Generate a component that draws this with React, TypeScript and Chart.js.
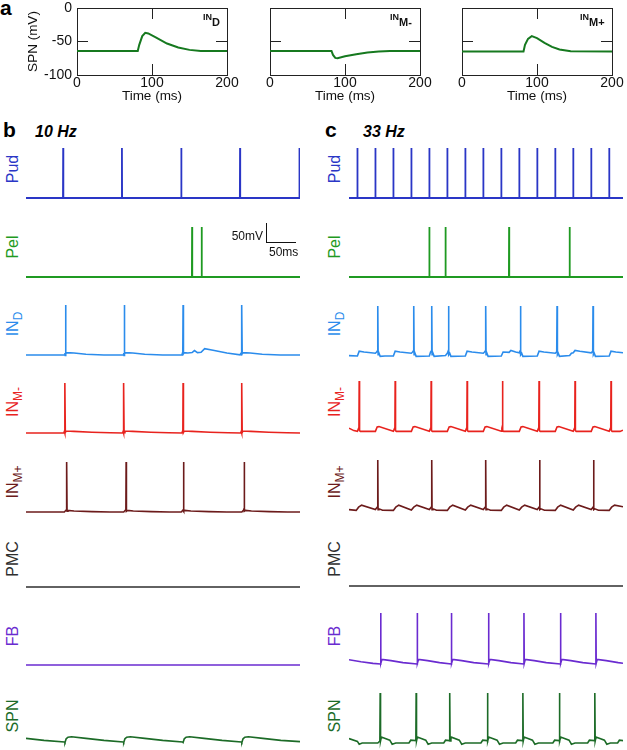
import React, { useEffect, useRef } from 'react';
import { Chart, registerables } from 'chart.js';

Chart.register(...registerables);

type Pt = [number, number];

const FONT = '"Liberation Sans", Arial, Helvetica, sans-serif';

// ---------- Panel a (PSP shapes onto SPN) ----------
const aTimeTicks = [0, 100, 200];
const aVoltTicks = [-100, -50, 0];
const aIND: Pt[] = [[0, -64], [81, -64], [83, -55], [87, -42], [91, -37], [95, -38], [105, -44], [120, -53], [135, -59], [150, -62.5], [165, -64], [200, -64]];
const aINMminus: Pt[] = [[0, -64], [82, -64], [84, -70], [87, -74.5], [90, -75], [100, -72], [115, -69], [130, -66.5], [145, -65], [160, -64], [200, -64]];
const aINMplus: Pt[] = [[0, -65], [82, -65], [84, -55], [88, -46], [93, -42], [100, -45], [110, -52], [120, -58], [130, -62], [145, -64.5], [200, -65]];

// ---------- Panel b (10 Hz), time in ms, voltage in mV ----------
const pudB: Pt[] = [[0, -65], [61.7, -65], [62, 60], [62.3, -65], [159.7, -65], [160, 60], [160.3, -65], [258.7, -65], [259, 60], [259.3, -65], [356.7, -65], [357, 60], [357.3, -65], [455.7, -65], [456, 60], [456.3, -65], [457, -65]];
const pelB: Pt[] = [[0, -65], [276.7, -65], [277, 60], [277.3, -65], [292.7, -65], [293, 60], [293.3, -65], [457, -65]];
const inDB: Pt[] = [[0, -65], [64, -65], [65, -60], [65.5, -66], [66, 60], [66.6, -62], [68, -59], [80, -60], [100, -63], [130, -65], [162, -65], [163, -60], [163.5, -66], [164, 60], [164.6, -62], [166, -59], [178, -60], [198, -63], [228, -65], [260, -65], [261, -60], [261.5, -66], [262, 60], [262.6, -62], [264, -59], [270, -60], [277, -59], [281, -54], [286, -59], [292, -58], [298, -49], [312, -53], [335, -60], [357, -64.5], [359, -60], [359.5, -66], [360, 60], [360.6, -62], [362, -59], [374, -60], [394, -63], [424, -65], [457, -65]];
const inMmB: Pt[] = [[0, -65], [63, -65], [64, -61], [64.6, -65.5], [65, 60], [65.6, -64], [67, -60], [80, -61], [110, -63], [140, -64.5], [161, -65], [162, -61], [162.6, -65.5], [163, 60], [163.6, -64], [165, -60], [178, -61], [208, -63], [238, -64.5], [260, -65], [261, -61], [261.6, -65.5], [262, 60], [262.6, -64], [264, -60], [277, -61], [307, -63], [337, -64.5], [358, -65], [359, -61], [359.6, -65.5], [360, 60], [360.6, -64], [362, -60], [375, -61], [405, -63], [435, -64.5], [457, -65]];
const inMpB: Pt[] = [[0, -65], [64, -65], [67, -60], [67.6, -57], [68, 60], [68.5, -63], [70, -61], [80, -62.5], [110, -64], [140, -65], [163, -65], [166, -60], [166.6, -57], [167, 60], [167.5, -63], [169, -61], [179, -62.5], [209, -64], [239, -65], [259, -65], [262, -60], [262.6, -57], [263, 60], [263.5, -63], [265, -61], [275, -62.5], [305, -64], [335, -65], [360, -65], [363, -60], [363.6, -57], [364, 60], [364.5, -63], [366, -61], [376, -62.5], [406, -64], [436, -65], [457, -65]];
const pmcB: Pt[] = [[0, -65], [457, -65]];
const fbB: Pt[] = [[0, -65], [457, -65]];
const spnB: Pt[] = [[0, -56], [30, -61], [64, -65], [65, -66.5], [67, -57], [70, -53], [76, -52], [100, -56], [130, -61], [162, -65], [163, -66.5], [165, -57], [168, -53], [174, -52], [198, -56], [228, -61], [261, -65], [262, -66.5], [264, -57], [267, -53], [273, -52], [297, -56], [327, -61], [359, -65], [360, -66.5], [362, -57], [365, -53], [371, -52], [395, -56], [425, -61], [457, -64]];

// ---------- Panel c (33 Hz) ----------
const pudC: Pt[] = [[0, -65], [13.7, -65], [14, 60], [14.3, -65], [43.7, -65], [44, 60], [44.3, -65], [73.7, -65], [74, 60], [74.3, -65], [103.7, -65], [104, 60], [104.3, -65], [133.7, -65], [134, 60], [134.3, -65], [163.7, -65], [164, 60], [164.3, -65], [193.7, -65], [194, 60], [194.3, -65], [223.7, -65], [224, 60], [224.3, -65], [253.7, -65], [254, 60], [254.3, -65], [283.7, -65], [284, 60], [284.3, -65], [313.7, -65], [314, 60], [314.3, -65], [343.7, -65], [344, 60], [344.3, -65], [373.7, -65], [374, 60], [374.3, -65], [403.7, -65], [404, 60], [404.3, -65], [433.7, -65], [434, 60], [434.3, -65], [457, -65]];
const pelC: Pt[] = [[0, -65], [133.7, -65], [134, 60], [134.3, -65], [160.7, -65], [161, 60], [161.3, -65], [266.7, -65], [267, 60], [267.3, -65], [367.7, -65], [368, 60], [368.3, -65], [457, -65]];
const inDC: Pt[] = [[0, -64], [14, -65], [17, -53], [25, -55], [44, -58], [46, -55], [47.5, -52], [48, 60], [48.6, -62], [50, -58], [52, -66], [60, -65], [74, -65], [77, -53], [85, -55], [104, -58], [106, -55], [107.5, -52], [108, 60], [108.6, -62], [110, -58], [112, -66], [134, -65], [136, -55], [137.5, -52], [138, 60], [138.6, -62], [140, -58], [142, -66], [161, -64], [164, -58], [165.5, -52], [166, 60], [166.6, -62], [168, -58], [170, -66], [194, -65], [197, -53], [205, -55], [224, -58], [226, -55], [227.5, -52], [228, 60], [228.6, -62], [230, -58], [232, -66], [254, -65], [257, -55], [267, -56], [270, -51], [278, -55], [284, -57], [285.5, -52], [286, 60], [286.6, -62], [288, -58], [290, -66], [314, -65], [317, -53], [325, -55], [344, -58], [346, -55], [346.5, -52], [347, 60], [347.6, -62], [349, -58], [351, -66], [368, -64], [371, -58], [374, -57], [377, -51], [385, -53], [404, -57], [406, -54], [406.5, -52], [407, 60], [407.6, -62], [409, -58], [411, -66], [434, -65], [437, -53], [445, -55], [457, -57]];
const inMmC: Pt[] = [[0, -58], [8, -64], [14, -66], [16, -58], [16.6, -54], [17, 60], [17.6, -64], [19, -66], [44, -66], [47, -55], [50, -54], [74, -65.5], [76, -58], [76.6, -54], [77, 60], [77.6, -64], [79, -66], [104, -66], [107, -55], [110, -54], [134, -65.5], [136, -58], [136.6, -54], [137, 60], [137.6, -64], [139, -66], [164, -66], [167, -55], [170, -54], [194, -65.5], [196, -58], [196.6, -54], [197, 60], [197.6, -64], [199, -66], [224, -66], [227, -55], [230, -54], [254, -65.5], [255, -58], [255.6, -54], [256, 60], [256.6, -64], [258, -66], [284, -66], [287, -55], [290, -54], [314, -65.5], [316, -58], [316.6, -54], [317, 60], [317.6, -64], [319, -66], [344, -66], [347, -55], [350, -54], [374, -65.5], [376, -58], [376.6, -54], [377, 60], [377.6, -64], [379, -66], [404, -66], [407, -55], [410, -54], [434, -65.5], [436, -58], [436.6, -54], [437, 60], [437.6, -64], [439, -66], [452, -66], [457, -63]];
const inMpC: Pt[] = [[0, -64], [12, -66], [16, -58], [21, -53], [44, -64], [46, -60], [47.6, -57], [48, 60], [48.5, -64], [50, -62], [56, -65.5], [74, -66], [78, -58], [83, -53], [104, -65], [108, -58], [113, -53], [134, -64], [136, -60], [137.6, -57], [138, 60], [138.5, -64], [140, -62], [146, -65.5], [164, -66], [168, -58], [173, -53], [194, -65], [198, -58], [203, -53], [224, -64], [226, -60], [227.6, -57], [228, 60], [228.5, -64], [230, -62], [236, -65.5], [254, -66], [258, -58], [263, -53], [284, -65], [288, -58], [293, -53], [314, -64], [316, -60], [317.6, -57], [318, 60], [318.5, -64], [320, -62], [326, -65.5], [344, -66], [348, -58], [353, -53], [374, -65], [378, -58], [383, -53], [404, -64], [406, -60], [407.6, -57], [408, 60], [408.5, -64], [410, -62], [416, -65.5], [434, -66], [438, -58], [443, -53], [457, -57]];
const pmcC: Pt[] = [[0, -65], [457, -65]];
const fbC: Pt[] = [[0, -57], [20, -62], [40, -66], [52.5, -67.5], [52.8, 60], [53.3, -66], [55, -56], [70, -59], [90, -64], [113.5, -67.5], [113.8, 60], [114.3, -66], [116, -56], [131, -59], [151, -64], [170.5, -67.5], [170.8, 60], [171.3, -66], [173, -56], [188, -59], [208, -64], [232.5, -67.5], [232.8, 60], [233.3, -66], [235, -56], [250, -59], [270, -64], [291.5, -67.5], [291.8, 60], [292.3, -66], [294, -56], [309, -59], [329, -64], [352.5, -67.5], [352.8, 60], [353.3, -66], [355, -56], [370, -59], [390, -64], [411.5, -67.5], [411.8, 60], [412.3, -66], [414, -56], [429, -59], [449, -64], [457, -65.5]];
const spnC: Pt[] = [[0, -54], [14, -61], [17, -68], [22, -65], [48, -65], [51.5, -60], [52, 60], [52.6, -60], [54, -50], [68, -58], [72, -68], [78, -65], [100, -65], [103, -58], [111.5, -59], [112, 60], [112.6, -60], [114, -50], [128, -58], [132, -68], [138, -65], [158, -65], [161, -58], [167.5, -59], [168, 60], [168.6, -60], [170, -50], [184, -58], [188, -68], [194, -65], [220, -65], [223, -58], [230.5, -59], [231, 60], [231.6, -60], [233, -50], [247, -58], [251, -68], [257, -65], [278, -65], [281, -58], [289.5, -59], [290, 60], [290.6, -60], [292, -50], [306, -58], [310, -68], [316, -65], [340, -65], [343, -58], [350.5, -59], [351, 60], [351.6, -60], [353, -50], [367, -58], [371, -68], [377, -65], [398, -65], [401, -58], [409.5, -59], [410, 60], [410.6, -60], [412, -50], [426, -58], [430, -68], [436, -65], [448, -65], [451, -58], [457, -59]];

const COLORS = {
  pud: '#2a36c6',
  pel: '#1f9a22',
  inD: '#2b8cec',
  inMm: '#e8231e',
  inMp: '#6c1b1b',
  pmc: '#2e2e2e',
  fb: '#6a2bd0',
  spn: '#1c6b27',
  a: '#16791f',
};

// trace canvas geometry (0.6 px/ms, 0.4 px/mV)
const T_MAX = 457;
const V_MIN = -80;
const V_MAX = 65;
const PX_MV = 0.4;
const TRACE_W = 274;

function Trace({ pts, color, left, base, lw = 1.6 }: { pts: Pt[]; color: string; left: number; base: number; lw?: number }) {
  const ref = useRef<HTMLCanvasElement>(null);
  const h = (V_MAX - V_MIN) * PX_MV;
  const top = base - (V_MAX + 65) * PX_MV;
  useEffect(() => {
    const chart = new Chart(ref.current as HTMLCanvasElement, {
      type: 'line',
      data: {
        datasets: [{
          data: pts.map(([x, y]) => ({ x, y })),
          borderColor: color,
          borderWidth: lw,
          pointRadius: 0,
          tension: 0,
          fill: false,
        }],
      },
      options: {
        animation: false,
        responsive: false,
        devicePixelRatio: 1,
        layout: { padding: 0 },
        plugins: { legend: { display: false }, tooltip: { enabled: false } },
        scales: {
          x: { type: 'linear', min: 0, max: T_MAX, display: false },
          y: { type: 'linear', min: V_MIN, max: V_MAX, display: false },
        },
      },
    } as any);
    return () => chart.destroy();
  }, []);
  return <canvas ref={ref} width={TRACE_W} height={h} style={{ position: 'absolute', left, top, width: TRACE_W, height: h }} />;
}

// plot area of each panel-a chart: x from areaL to areaL+150, y from 8 to 75
const A_TOP = 8;
const A_BOTTOM = 75;
const A_TOP_W = 25;
const A_BOTTOM_H = 35;
const A_RIGHT_W = 26;

function PanelA({ pts, areaL, leftW, showY }: { pts: Pt[]; areaL: number; leftW: number; showY: boolean }) {
  const ref = useRef<HTMLCanvasElement>(null);
  const left = areaL - leftW;
  const width = leftW + 150 + A_RIGHT_W;
  const top = A_TOP - A_TOP_W;
  const height = A_TOP_W + (A_BOTTOM - A_TOP) + A_BOTTOM_H;
  useEffect(() => {
    const tickFont = { family: FONT, size: 14 };
    const titleFont = { family: FONT, size: 13.5 };
    const frameGrid = { drawOnChartArea: false, drawTicks: true, tickLength: -11, color: '#222', lineWidth: 1 };
    const frameBorder = { display: true, color: '#222', width: 1 };
    const noGrid = { display: false, drawTicks: false };
    const noBorder = { display: false };
    const xTicks = (s: any) => { s.ticks = aTimeTicks.map((v) => ({ value: v })); };
    const yTicks = (s: any) => { s.ticks = aVoltTicks.map((v) => ({ value: v })); };
    const chart = new Chart(ref.current as HTMLCanvasElement, {
      type: 'line',
      data: {
        datasets: [{
          data: pts.map(([x, y]) => ({ x, y })),
          borderColor: COLORS.a,
          borderWidth: 2,
          pointRadius: 0,
          tension: 0,
          fill: false,
          xAxisID: 'x',
          yAxisID: 'y',
        }],
      },
      options: {
        animation: false,
        responsive: false,
        devicePixelRatio: 1,
        layout: { padding: 0 },
        plugins: { legend: { display: false }, tooltip: { enabled: false } },
        scales: {
          // frame axes (border + inward ticks)
          x: {
            type: 'linear', position: 'bottom', weight: 0, min: 0, max: 200,
            afterBuildTicks: xTicks,
            ticks: { display: false },
            grid: frameGrid, border: frameBorder,
            afterFit: (s: any) => { s.height = 0; },
          },
          x2: {
            type: 'linear', position: 'top', min: 0, max: 200,
            afterBuildTicks: xTicks,
            ticks: { display: false },
            grid: frameGrid, border: frameBorder,
            afterFit: (s: any) => { s.height = A_TOP_W; },
          },
          y: {
            type: 'linear', position: 'left', weight: 0, min: -100, max: 0,
            afterBuildTicks: yTicks,
            ticks: { display: false },
            grid: frameGrid, border: frameBorder,
            afterFit: (s: any) => { s.width = showY ? 0 : leftW; },
          },
          y2: {
            type: 'linear', position: 'right', min: -100, max: 0,
            afterBuildTicks: yTicks,
            ticks: { display: false },
            grid: frameGrid, border: frameBorder,
            afterFit: (s: any) => { s.width = A_RIGHT_W; },
          },
          // label axes (tick labels + titles)
          xl: {
            type: 'linear', axis: 'x', position: 'bottom', weight: 1, min: 0, max: 200,
            afterBuildTicks: xTicks,
            ticks: { font: tickFont, color: '#111', padding: 0, maxRotation: 0, autoSkip: false },
            grid: noGrid, border: noBorder,
            title: { display: true, text: 'Time (ms)', font: titleFont, color: '#111', padding: { top: 0, bottom: 5.9 } },
            afterFit: (s: any) => { s.height = A_BOTTOM_H; },
          },
          yl: {
            type: 'linear', axis: 'y', position: 'left', weight: 1, min: -100, max: 0,
            display: showY,
            afterBuildTicks: yTicks,
            ticks: { font: tickFont, color: '#111', padding: 5, autoSkip: false },
            grid: noGrid, border: noBorder,
            title: { display: true, text: 'SPN (mV)', font: titleFont, color: '#111', padding: { top: 6.9, bottom: 0 } },
            afterFit: (s: any) => { s.width = showY ? leftW : 0; },
          },
        },
      },
    } as any);
    return () => chart.destroy();
  }, []);
  return <canvas ref={ref} width={width} height={height} style={{ position: 'absolute', left, top, width, height }} />;
}

function RowLabel({ text, sub, color, cx, cy }: { text: string; sub?: string; color: string; cx: number; cy: number }) {
  return (
    <div style={{ position: 'absolute', left: cx, top: cy, transform: 'translate(-50%,-50%) rotate(-90deg)', color, fontSize: 16, lineHeight: '16px', whiteSpace: 'nowrap' }}>
      {text}
      {sub && <span style={{ fontSize: 12, position: 'relative', top: 4 }}>{sub}</span>}
    </div>
  );
}

function InsetLabel({ sub, left }: { sub: string; left: number }) {
  return (
    <div style={{ position: 'absolute', left, top: 12, fontSize: 9, lineHeight: '9px', fontWeight: 'bold', whiteSpace: 'nowrap', color: '#111' }}>
      IN<span style={{ fontSize: 11, position: 'relative', top: 6 }}>{sub}</span>
    </div>
  );
}

const rows = [
  { key: 'pud', text: 'Pud', sub: '', cy: 169, b: pudB, c: pudC, baseB: 198, baseC: 198, color: COLORS.pud, lw: 1.8 },
  { key: 'pel', text: 'Pel', sub: '', cy: 247, b: pelB, c: pelC, baseB: 277, baseC: 277, color: COLORS.pel, lw: 1.8 },
  { key: 'inD', text: 'IN', sub: 'D', cy: 324, b: inDB, c: inDC, baseB: 355, baseC: 356, color: COLORS.inD, lw: 1.6 },
  { key: 'inMm', text: 'IN', sub: 'M-', cy: 402, b: inMmB, c: inMmC, baseB: 433, baseC: 431, color: COLORS.inMm, lw: 1.6 },
  { key: 'inMp', text: 'IN', sub: 'M+', cy: 482, b: inMpB, c: inMpC, baseB: 511.5, baseC: 510, color: COLORS.inMp, lw: 1.6 },
  { key: 'pmc', text: 'PMC', sub: '', cy: 559, b: pmcB, c: pmcC, baseB: 586.7, baseC: 586, color: COLORS.pmc, lw: 1.6 },
  { key: 'fb', text: 'FB', sub: '', cy: 636, b: fbB, c: fbC, baseB: 665, baseC: 663, color: COLORS.fb, lw: 1.6 },
  { key: 'spn', text: 'SPN', sub: '', cy: 716, b: spnB, c: spnC, baseB: 742, baseC: 742.7, color: COLORS.spn, lw: 1.6 },
];

export default function App() {
  return (
    <div style={{ position: 'fixed', left: 0, top: 0, width: 627, height: 750, background: '#fff', fontFamily: FONT, overflow: 'hidden' }}>
      {/* panel a */}
      <PanelA pts={aIND} areaL={77} leftW={59} showY={true} />
      <PanelA pts={aINMminus} areaL={270} leftW={25} showY={false} />
      <PanelA pts={aINMplus} areaL={462} leftW={25} showY={false} />
      <InsetLabel sub="D" left={203} />
      <InsetLabel sub="M-" left={390} />
      <InsetLabel sub="M+" left={580} />

      {/* panel letters */}
      <div style={{ position: 'absolute', left: 0, top: -3, fontSize: 21, lineHeight: '21px', fontWeight: 'bold' }}>a</div>
      <div style={{ position: 'absolute', left: 3, top: 119, fontSize: 21, lineHeight: '21px', fontWeight: 'bold' }}>b</div>
      <div style={{ position: 'absolute', left: 325, top: 119, fontSize: 21, lineHeight: '21px', fontWeight: 'bold' }}>c</div>
      <div style={{ position: 'absolute', left: 35, top: 123.5, fontSize: 16, lineHeight: '16px', fontWeight: 'bold', fontStyle: 'italic' }}>10 Hz</div>
      <div style={{ position: 'absolute', left: 363, top: 123.5, fontSize: 16, lineHeight: '16px', fontWeight: 'bold', fontStyle: 'italic' }}>33 Hz</div>

      {/* panels b and c */}
      {rows.map((r) => (
        <React.Fragment key={r.key}>
          <RowLabel text={r.text} sub={r.sub || undefined} color={r.color} cx={12.5} cy={r.cy} />
          <RowLabel text={r.text} sub={r.sub || undefined} color={r.color} cx={335} cy={r.cy} />
          <Trace pts={r.b} color={r.color} left={26} base={r.baseB} lw={r.lw} />
          <Trace pts={r.c} color={r.color} left={349} base={r.baseC} lw={r.lw} />
        </React.Fragment>
      ))}

      {/* scale bar */}
      <div style={{ position: 'absolute', left: 266, top: 223, width: 0, height: 20, borderLeft: '1.5px solid #111' }} />
      <div style={{ position: 'absolute', left: 266, top: 242, width: 30, height: 0, borderTop: '1.5px solid #111' }} />
      <div style={{ position: 'absolute', left: 213, top: 230, width: 50, textAlign: 'right', fontSize: 12, lineHeight: '12px', color: '#111' }}>50mV</div>
      <div style={{ position: 'absolute', left: 269, top: 246, fontSize: 12, lineHeight: '12px', color: '#111' }}>50ms</div>
    </div>
  );
}
